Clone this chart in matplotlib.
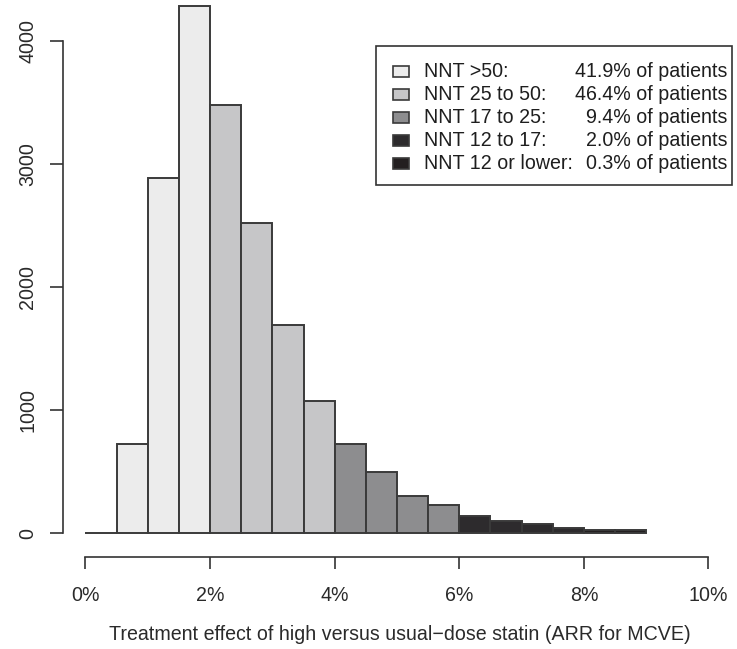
import matplotlib.pyplot as plt
import numpy as np
from matplotlib.patches import Rectangle

plt.rcParams['font.family'] = ['Liberation Sans', 'DejaVu Sans']

# histogram bins (ARR in %), counts and NNT group of each bin
bin_left = np.arange(0, 9, 0.5)
counts = [0, 728, 2888, 4282, 3480, 2520, 1690, 1077,
          728, 495, 303, 226, 140, 102, 73, 41, 27, 25]
group = [0, 0, 0, 0, 1, 1, 1, 1, 2, 2, 2, 2, 3, 3, 3, 3, 4, 4]

group_colors = ['#ececec', '#c6c6c8', '#8d8d8f', '#2d2b2d', '#231f20']
legend_names = ['NNT >50:', 'NNT 25 to 50:', 'NNT 17 to 25:', 'NNT 12 to 17:', 'NNT 12 or lower:']
legend_pct = ['41.9% of patients', '46.4% of patients', '9.4% of patients',
              '2.0% of patients', '0.3% of patients']

x_ticks = [0, 2, 4, 6, 8, 10]
y_ticks = [0, 1000, 2000, 3000, 4000]

fs = 14.1
W, H = 737, 649
fig = plt.figure(figsize=(W / 100, H / 100), dpi=100)
ax = fig.add_axes([0, 0, 1, 1])
ax.set_xlim(-85.5 / 62.3, (W - 85.5) / 62.3)
ax.set_ylim(-(H - 533.3) / 0.12308, 533.3 / 0.12308)
ax.patch.set_visible(False)

for x0, c, g in zip(bin_left, counts, group):
    ax.bar(x0, c, width=0.5, align='edge', color=group_colors[g],
           edgecolor='#3a3a3a', linewidth=1.4, clip_on=False)

ax.spines['top'].set_visible(False)
ax.spines['right'].set_visible(False)
ax.spines['left'].set_position(('data', (62.7 - 85.5) / 62.3))
ax.spines['bottom'].set_position(('data', -(557.3 - 533.3) / 0.12308))
ax.spines['left'].set_bounds(0, 4000)
ax.spines['bottom'].set_bounds(0, 10)
for s in ['left', 'bottom']:
    ax.spines[s].set_color('#333333')
    ax.spines[s].set_linewidth(1.2)

ax.set_xticks(x_ticks)
ax.set_xticklabels([f'{t}%' for t in x_ticks])
ax.set_yticks(y_ticks)
ax.set_yticklabels([str(t) for t in y_ticks], rotation=90, va='center')
ax.tick_params(axis='x', length=8.5, width=1.2, color='#333333', pad=12, labelsize=fs, labelcolor='#2a2a2a')
ax.tick_params(axis='y', length=9.5, width=1.2, color='#333333', pad=9, labelsize=fs, labelcolor='#2a2a2a')

fig.text(400 / W, 1 - 634 / H, 'Treatment effect of high versus usual\u2212dose statin (ARR for MCVE)',
         ha='center', va='center', fontsize=fs, color='#2a2a2a')

# legend box
fig.patches.append(Rectangle((376 / W, 1 - 185 / H), (732 - 376) / W, (185 - 46) / H,
                             transform=fig.transFigure, facecolor='white',
                             edgecolor='#333333', linewidth=1.2))
for i in range(5):
    yc = 71.5 + i * 23.0
    fig.patches.append(Rectangle((393 / W, 1 - (yc + 5.5) / H), 16 / W, 11 / H,
                                 transform=fig.transFigure, facecolor=group_colors[i],
                                 edgecolor='#3a3a3a', linewidth=1.2))
    fig.text(424 / W, 1 - yc / H, legend_names[i], ha='left', va='center',
             fontsize=fs, color='#1e1e1e')
    fig.text(727 / W, 1 - yc / H, legend_pct[i], ha='right', va='center',
             fontsize=fs, color='#1e1e1e')

fig.savefig('out.png', dpi=100)
